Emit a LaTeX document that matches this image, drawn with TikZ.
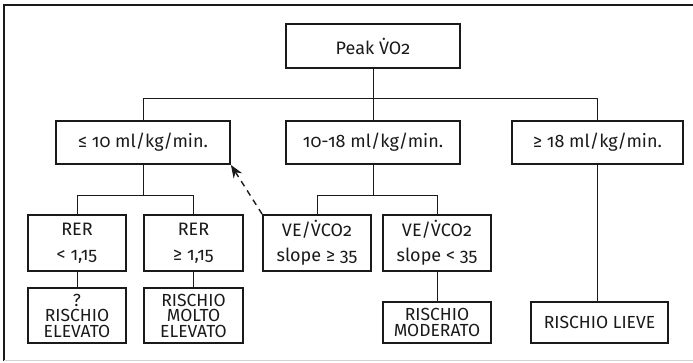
\documentclass[tikz,border=0pt]{standalone}
\usepackage{fontspec}
\setmainfont{Fira Sans}[Numbers=OldStyle]
\usetikzlibrary{arrows.meta}
\definecolor{ink}{HTML}{1A1A1A}
\begin{document}
\begin{tikzpicture}[x=1pt,y=-1pt,
  box/.style={draw=ink,line width=1.8pt,rectangle,inner sep=0pt,align=center,text=ink,
    font=\fontsize{18}{25}\selectfont},
  res/.style={box,font=\fontsize{17.5}{15.5}\selectfont},
  conn/.style={draw=ink,line width=0.9pt},
  dashconn/.style={draw=ink,line width=1.4pt,dash pattern=on 6pt off 5pt,-{Stealth[length=13pt,width=10pt]}}]
\useasboundingbox (0,0) rectangle (693,362);
% frame
\draw[ink,line width=1.6pt] (693,5) -- (4,5) -- (4,361);
\draw[gray!35,line width=1.2pt] (4,360.8) -- (693,360.8);
% nodes
\node[box,minimum width=174pt,minimum height=44pt] (peak) at (373,46) {Peak \.{V}O2};
\node[box,minimum width=174pt,minimum height=43pt] (b1) at (143,142.5) {≤ 10 ml/kg/min.};
\node[box,minimum width=174pt,minimum height=43pt] (b2) at (373,142.5) {10-18 ml/kg/min.};
\node[box,minimum width=171pt,minimum height=43pt] (b3) at (597.5,142.5) {≥ 18 ml/kg/min.};
\node[box,minimum width=98pt,minimum height=56pt] (rer1) at (77,243) {RER\\< 1,15};
\node[box,minimum width=99pt,minimum height=56pt] (rer2) at (193.5,243) {RER\\≥ 1,15};
\node[box,minimum width=108pt,minimum height=56pt] (ve1) at (317,243) {VE/\.{V}CO2\\slope ≥ 35};
\node[box,minimum width=108pt,minimum height=56pt] (ve2) at (437,243) {VE/\.{V}CO2\\slope < 35};
\node[res,minimum width=98pt,minimum height=55pt] (r1) at (77,315.5) {?\\RISCHIO\\ELEVATO};
\node[res,minimum width=99pt,minimum height=55pt] (r2) at (193.5,315.5) {RISCHIO\\MOLTO\\ELEVATO};
\node[res,minimum width=108pt,minimum height=41pt] (r3) at (437,322.5) {RISCHIO\\MODERATO};
\node[res,minimum width=137pt,minimum height=41pt] (r4) at (599.5,322.5) {RISCHIO LIEVE};
% connectors
\draw[conn] (peak.south) -- (b2.north);
\draw[conn] (b1.north) -- ++(0,-22) -| (b3.north);
\draw[conn] (b1.south) -- ++(0,31) -| (rer1.north);
\draw[conn] (b1.south) -- ++(0,31) -| (rer2.north);
\draw[conn] (b2.south) -- ++(0,31) -| (ve1.north);
\draw[conn] (b2.south) -- ++(0,31) -| (ve2.north);
\draw[conn] (rer1.south) -- (r1.north);
\draw[conn] (rer2.south) -- (r2.north);
\draw[conn] (ve2.south) -- (r3.north);
\draw[conn] (b3.south) -- (b3.south |- r4.north);
\draw[dashconn] (ve1.north west) -- (b1.south east);
\end{tikzpicture}
\end{document}
